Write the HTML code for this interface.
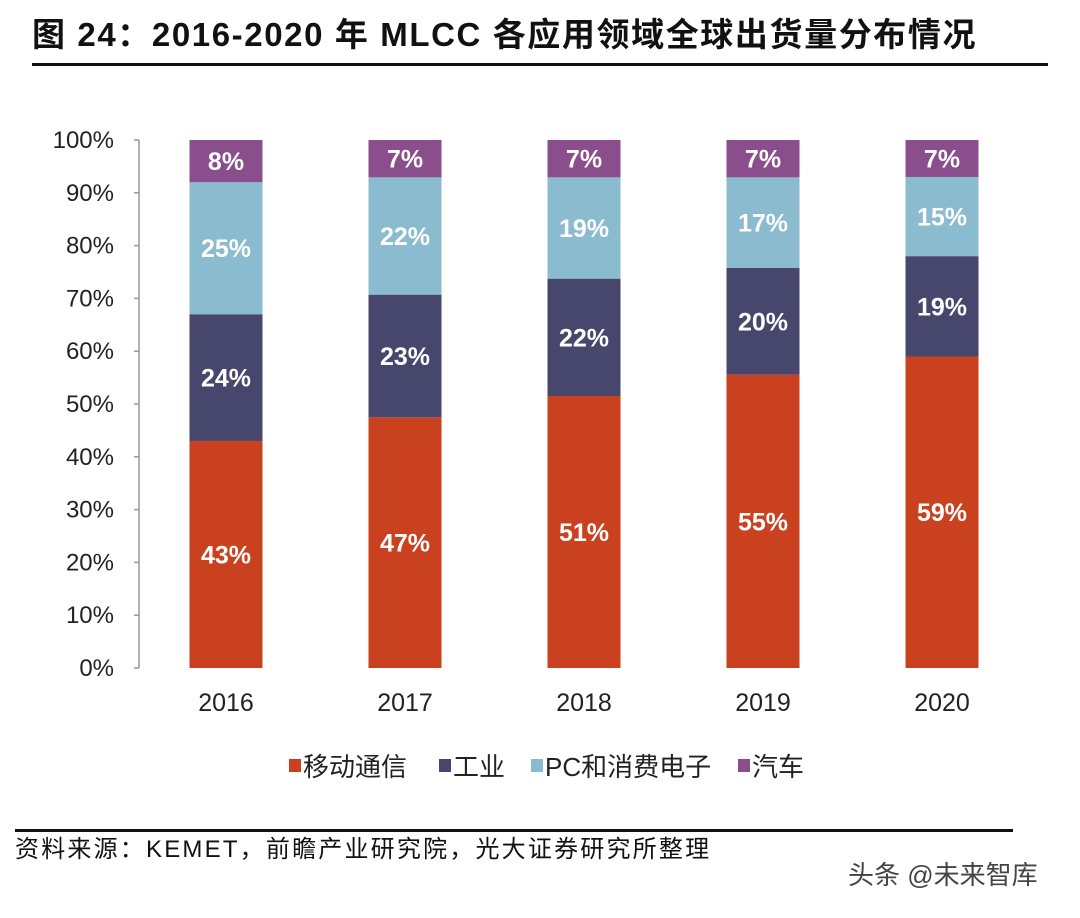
<!DOCTYPE html>
<html><head><meta charset="utf-8"><style>
body{margin:0;background:#fff;width:1080px;height:913px;overflow:hidden;font-family:"Liberation Sans","Noto Sans CJK SC",sans-serif}
svg text{font-family:"Liberation Sans","Noto Sans CJK SC",sans-serif}
</style></head><body>
<svg id="c" width="1080" height="913">
<text x="32" y="46" font-size="33" font-weight="bold" letter-spacing="1.6" fill="#111">图 24：2016-2020 年 MLCC 各应用领域全球出货量分布情况</text>
<rect x="32" y="63" width="1016" height="3" fill="#111"/>
<g id="plot"></g>
<rect x="15" y="829" width="998" height="3" fill="#111"/>
<text x="15" y="857" font-size="24" letter-spacing="2.2" fill="#111">资料来源：KEMET，前瞻产业研究院，光大证券研究所整理</text>
<text x="848" y="884" font-size="26" fill="#444">头条 @未来智库</text>
</svg>
<script>
const categories=["2016","2017","2018","2019","2020"];
const seriesNames=["移动通信","工业","PC和消费电子","汽车"];
const mobile=[43,47,51,55,59];
const industrial=[24,23,22,20,19];
const pc=[25,22,19,17,15];
const auto=[8,7,7,7,7];
const yTicks=[0,10,20,30,40,50,60,70,80,90,100];
const colors=["#C9411E","#47466D","#8BBBCF","#8A4E8D"];
const series=[mobile,industrial,pc,auto];
const NS="http://www.w3.org/2000/svg";
const g=document.getElementById('plot');
const y0=668,y1=140,xAxis=139,step=179,firstC=226,bw=73;
const y=v=>y0-(y0-y1)*v/100;
const x=i=>firstC+i*step;
function el(t,a,p){const e=document.createElementNS(NS,t);for(const k in a)e.setAttribute(k,a[k]);(p||g).appendChild(e);return e;}
const ax=el('line',{x1:xAxis,x2:xAxis,y1:y1,y2:y0,stroke:'#999','stroke-width':1.5});


yTicks.forEach(v=>{
 const tk=el('line',{x1:xAxis-5,x2:xAxis,y1:y(v),y2:y(v),stroke:'#999','stroke-width':1.5});
 
 
 const t=el('text',{x:114,y:y(v)+8,'font-size':24,'text-anchor':'end',fill:'#222'});
 t.textContent=v+'%';
 
 
});
categories.forEach((c,i)=>{
 const total=series.reduce((s,a)=>s+a[i],0);
 let cum=0;
 series.forEach((s,k)=>{
  const v=s[i];
  const a=cum/total*100, b=(cum+v)/total*100; cum+=v;
  const r=el('rect',{x:x(i)-bw/2,y:y(b),width:bw,height:y(a)-y(b),fill:colors[k]});
  
  
  const t=el('text',{x:x(i),y:(y(a)+y(b))/2+9,'font-size':25,'font-weight':'bold','text-anchor':'middle',fill:'#fff'});
  t.textContent=v+'%';
  
  
 });
 const t=el('text',{x:x(i),y:711,'font-size':25,'text-anchor':'middle',fill:'#222'});
 t.textContent=c;
 
 
});
const lx=[289,439,531,738];
seriesNames.forEach((n,k)=>{
 const r=el('rect',{x:lx[k],y:759,width:12,height:13,fill:colors[k]});
 
 
 const t=el('text',{x:lx[k]+14,y:776,'font-size':26,fill:'#222'});
 t.textContent=n;
 
 
});
</script>
</body></html>
